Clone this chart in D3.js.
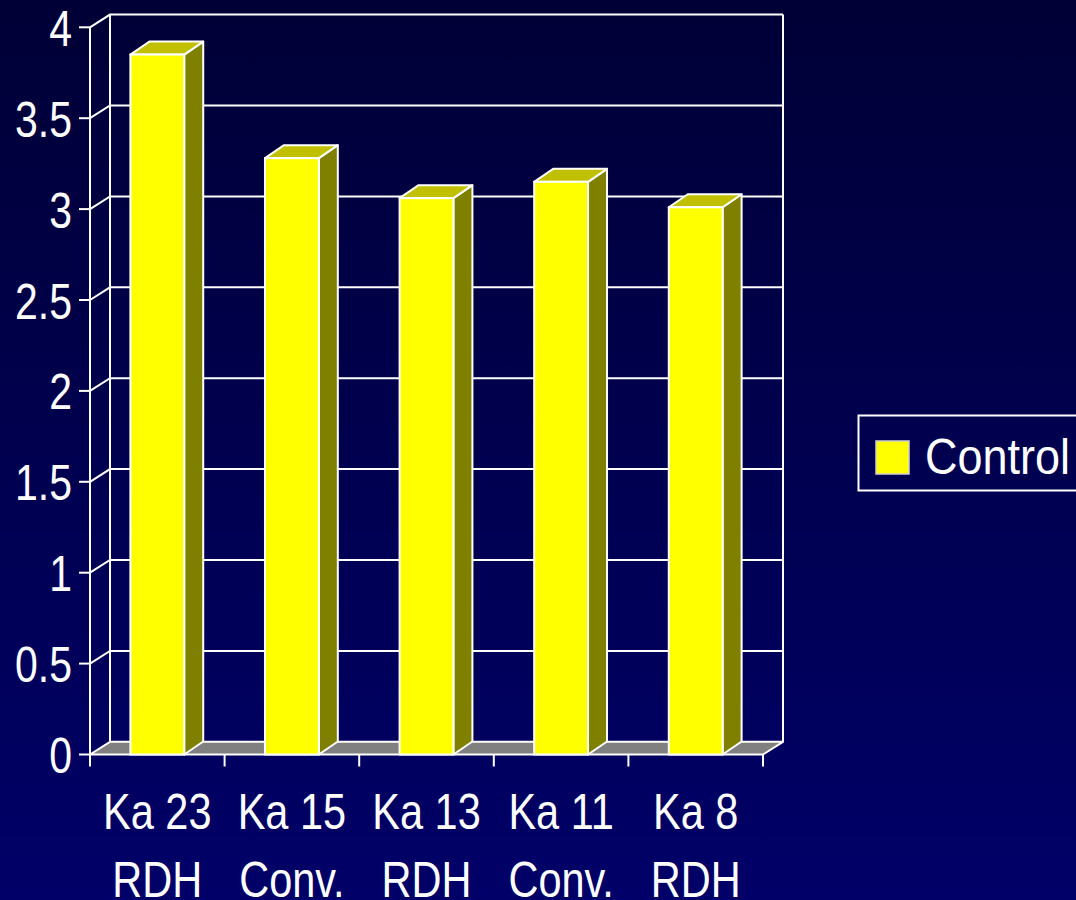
<!DOCTYPE html>
<html>
<head>
<meta charset="utf-8">
<script src="https://cdn.jsdelivr.net/npm/d3@7"></script>
<style>
  html, body { margin: 0; padding: 0; background: #000040; }
  svg { display: block; }
  text { font-family: "Liberation Sans Narrow", "Arial Narrow", "Liberation Sans", Arial, sans-serif; fill: #ffffff; }
</style>
</head>
<body>
<svg id="chart" width="1076" height="900"></svg>
<script>
const categoriesLine1 = ["Ka 23", "Ka 15", "Ka 13", "Ka 11", "Ka 8"];
const categoriesLine2 = ["RDH", "Conv.", "RDH", "Conv.", "RDH"];
const controlValues = [3.85, 3.28, 3.06, 3.15, 3.01];
const yTickValues = [0, 0.5, 1, 1.5, 2, 2.5, 3, 3.5, 4];
const yTickLabels = ["0", "0.5", "1", "1.5", "2", "2.5", "3", "3.5", "4"];
const seriesName = "Control";

const W = 1076, H = 900;
const svg = d3.select("#chart");

// background gradient
const defs = svg.append("defs");
const grad = defs.append("linearGradient").attr("id", "bg").attr("x1", 0).attr("y1", 0).attr("x2", 0).attr("y2", 1);
grad.append("stop").attr("offset", "0%").attr("stop-color", "#000036");
grad.append("stop").attr("offset", "100%").attr("stop-color", "#000068");
svg.append("rect").attr("width", W).attr("height", H).attr("fill", "url(#bg)");

// condensed text helper (narrow face emulated by horizontal scaling)
function narrowText(parent, tx, ty, str, anchor, sx) {
  parent.append("g").attr("transform", `translate(${tx},${ty}) scale(${sx},1)`)
    .append("text").attr("x", 0).attr("y", 0).attr("text-anchor", anchor)
    .attr("font-size", 50).text(str);
}

const x0 = 90, x1 = 763;
const x = d3.scaleBand().domain(categoriesLine1.map((d, i) => i)).range([x0, x1]).paddingInner(0).paddingOuter(0);
const y = d3.scaleLinear().domain([0, 4]).range([754.5, 27.3]);

const wdx = 20, wdy = -12.7;   // wall depth
const bdx = 19, bdy = -13;     // bar depth
const line = "#ffffff";
const lw = 2;

// floor
const g = svg.append("g");
g.append("path")
  .attr("d", `M${x0},${y(0)} L${x1},${y(0)} L${x1 + wdx},${y(0) + wdy} L${x0 + wdx},${y(0) + wdy} Z`)
  .attr("fill", "#808080").attr("stroke", line).attr("stroke-width", lw).attr("stroke-linejoin", "round");

// gridlines (left wall slants + back wall horizontals)
yTickValues.forEach(v => {
  if (v === 0) return;
  const yy = y(v);
  g.append("path")
    .attr("d", `M${x0},${yy} L${x0 + wdx},${yy + wdy} L${x1 + wdx},${yy + wdy}`)
    .attr("fill", "none").attr("stroke", line).attr("stroke-width", lw);
});

// walls: vertical edges
g.append("line").attr("x1", x0 + wdx).attr("x2", x0 + wdx).attr("y1", y(4) + wdy).attr("y2", y(0) + wdy)
  .attr("stroke", line).attr("stroke-width", lw);
g.append("line").attr("x1", x1 + wdx).attr("x2", x1 + wdx).attr("y1", y(4) + wdy).attr("y2", y(0) + wdy)
  .attr("stroke", line).attr("stroke-width", lw);
// front axis
g.append("line").attr("x1", x0).attr("x2", x0).attr("y1", y(4)).attr("y2", y(0))
  .attr("stroke", line).attr("stroke-width", lw);

// y ticks & labels
yTickValues.forEach((v, i) => {
  const yy = y(v);
  g.append("line").attr("x1", x0 - 11).attr("x2", x0).attr("y1", yy).attr("y2", yy)
    .attr("stroke", line).attr("stroke-width", lw);
  narrowText(g, 72, yy + 18.5, yTickLabels[i], "end", 0.82);
});

// x ticks
d3.range(categoriesLine1.length + 1).forEach(i => {
  const xx = x0 + i * x.bandwidth();
  g.append("line").attr("x1", xx).attr("x2", xx).attr("y1", y(0)).attr("y2", y(0) + 12)
    .attr("stroke", line).attr("stroke-width", lw);
});

// x labels
categoriesLine1.forEach((c, i) => {
  const cx = x(i) + x.bandwidth() / 2;
  narrowText(g, cx, 829, c, "middle", 0.83);
  narrowText(g, cx, 897, categoriesLine2[i], "middle", 0.83);
});

// bars
const bw = x.bandwidth() * 0.4;
controlValues.forEach((v, i) => {
  const bx = x(i) + (x.bandwidth() - bw) / 2;
  const top = y(v), bot = y(0);
  const bg = g.append("g");
  // side
  bg.append("path")
    .attr("d", `M${bx + bw},${top} L${bx + bw + bdx},${top + bdy} L${bx + bw + bdx},${bot + bdy} L${bx + bw},${bot} Z`)
    .attr("fill", "#808000").attr("stroke", line).attr("stroke-width", lw).attr("stroke-linejoin", "round");
  // top
  bg.append("path")
    .attr("d", `M${bx},${top} L${bx + bdx},${top + bdy} L${bx + bw + bdx},${top + bdy} L${bx + bw},${top} Z`)
    .attr("fill", "#c0c000").attr("stroke", line).attr("stroke-width", lw).attr("stroke-linejoin", "round");
  // front
  bg.append("rect").attr("x", bx).attr("y", top).attr("width", bw).attr("height", bot - top)
    .attr("fill", "#ffff00").attr("stroke", line).attr("stroke-width", lw);
});

// legend
const lg = svg.append("g");
lg.append("rect").attr("x", 858.5).attr("y", 415.5).attr("width", 240).attr("height", 75)
  .attr("fill", "none").attr("stroke", line).attr("stroke-width", 2);
lg.append("rect").attr("x", 876).attr("y", 441).attr("width", 33).attr("height", 33)
  .attr("fill", "#ffff00").attr("stroke", "#d0d0d0").attr("stroke-width", 1.5);
narrowText(lg, 925, 474, seriesName, "start", 0.9);
</script>
</body>
</html>
